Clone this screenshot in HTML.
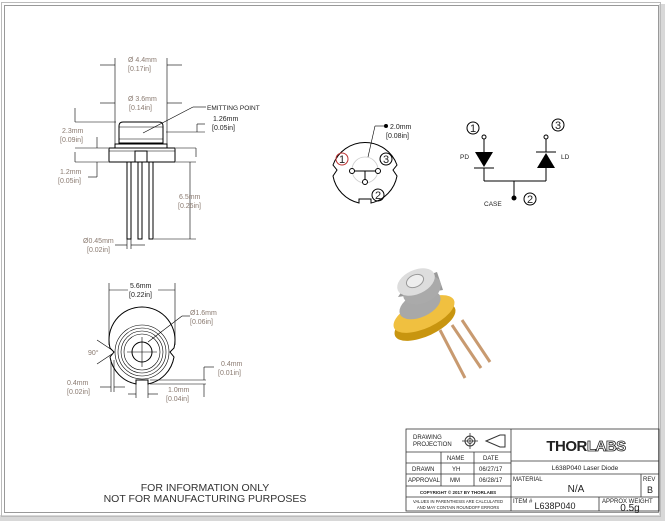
<!DOCTYPE html>
<html><head><meta charset="utf-8"><style>
html,body{margin:0;padding:0;background:#fff;}
svg{display:block;font-family:"Liberation Sans",sans-serif;}
.d{fill:#8a7a70;font-size:7px;}
.k{stroke:#000;fill:none;stroke-width:1;}
.t{stroke:#000;fill:none;stroke-width:0.6;}
.tb{font-size:6px;fill:#222;}
</style></head><body>
<svg width="665" height="521" viewBox="0 0 665 521">
<rect x="0" y="0" width="665" height="521" fill="#fff"/>
<rect x="659" y="4" width="6" height="517" fill="#d8d8d8"/>
<rect x="0" y="515" width="665" height="6" fill="#d8d8d8"/>
<rect x="1.5" y="2.5" width="659" height="514" fill="none" stroke="#bbb" stroke-width="1"/>
<rect x="4.5" y="5.5" width="654" height="507" fill="none" stroke="#999" stroke-width="1"/>

<!-- side view -->
<g>
<path class="k" d="M119,143 L119,126 Q119,122 123,122 L159,122 Q163,122 163,126 L163,143 Z"/>
<line class="t" x1="119" y1="127" x2="163" y2="127"/>
<line class="t" x1="119" y1="139" x2="163" y2="139"/>
<path class="k" d="M115,148 L115,144 L167,144 L167,148"/>
<rect class="k" x="109" y="148" width="66" height="14"/>
<line class="t" x1="109" y1="151" x2="175" y2="151"/>
<rect class="k" x="135" y="151" width="12" height="11"/>
<rect class="k" x="127" y="162" width="4" height="77"/>
<rect class="k" x="138" y="162" width="4" height="77"/>
<rect class="k" x="149" y="162" width="4" height="77"/>
<g class="t">
<line x1="115" y1="58" x2="115" y2="148"/><line x1="167" y1="58" x2="167" y2="148"/>
<line x1="100" y1="65" x2="115" y2="65"/><line x1="167" y1="65" x2="182" y2="65"/>
<line x1="100" y1="103" x2="115" y2="103"/><line x1="167" y1="103" x2="182" y2="103"/>
<line x1="143" y1="133" x2="193" y2="107"/><line x1="193" y1="107" x2="206" y2="107"/>
<line x1="166" y1="132" x2="205" y2="132"/><line x1="197" y1="124" x2="205" y2="124"/>
<line x1="197" y1="124" x2="197" y2="132"/>
<line x1="176" y1="148" x2="196" y2="148"/><line x1="196" y1="148" x2="196" y2="157"/>
<line x1="75" y1="108" x2="75" y2="122"/><line x1="75" y1="122" x2="116" y2="122"/>
<line x1="75" y1="148" x2="108" y2="148"/><line x1="97" y1="137" x2="97" y2="148"/>
<line x1="75" y1="152" x2="75" y2="162"/><line x1="75" y1="162" x2="108" y2="162"/>
<line x1="97" y1="162" x2="97" y2="177"/><line x1="88" y1="177" x2="97" y2="177"/>
<line x1="176" y1="162" x2="196" y2="162"/><line x1="154" y1="239" x2="196" y2="239"/>
<line x1="190" y1="162" x2="190" y2="239"/>
<line x1="115" y1="245" x2="127" y2="245"/><line x1="131" y1="245" x2="145" y2="245"/>
<line x1="127" y1="239" x2="127" y2="249"/><line x1="131" y1="239" x2="131" y2="249"/>
</g>
<text class="d" x="128" y="62">Ø 4.4mm</text><text class="d" x="128" y="71">[0.17in]</text>
<text class="d" x="128" y="101">Ø 3.6mm</text><text class="d" x="129" y="110">[0.14in]</text>
<text x="207" y="110" style="font-size:6.5px;fill:#222">EMITTING POINT</text>
<text x="213" y="121" style="font-size:7px;fill:#222">1.26mm</text><text x="212" y="130" style="font-size:7px;fill:#222">[0.05in]</text>
<text class="d" x="62" y="133">2.3mm</text><text class="d" x="60" y="142">[0.09in]</text>
<text class="d" x="60" y="174">1.2mm</text><text class="d" x="58" y="183">[0.05in]</text>
<text class="d" x="179" y="199">6.5mm</text><text class="d" x="178" y="208">[0.26in]</text>
<text class="d" x="83" y="243">Ø0.45mm</text><text class="d" x="87" y="252">[0.02in]</text>
</g>

<!-- bottom view -->
<g>
<path class="k" d="M110,348 A33,33 0 1 1 174,348 L170,352 L174,357 A33,33 0 0 1 148,384 L148,380 L136,380 L136,384 A33,33 0 0 1 110,357 L114,352 Z"/>
<circle class="t" cx="142" cy="352" r="27"/><circle class="t" cx="142" cy="352" r="24"/>
<circle class="t" cx="142" cy="352" r="21"/><circle class="t" cx="142" cy="352" r="18"/>
<circle class="k" cx="142" cy="352" r="10"/>
<g class="t">
<line x1="127" y1="352" x2="157" y2="352"/><line x1="142" y1="337" x2="142" y2="367"/>
<line x1="109" y1="283" x2="109" y2="345"/><line x1="175" y1="283" x2="175" y2="345"/>
<line x1="109" y1="290" x2="128" y2="290"/><line x1="158" y1="290" x2="175" y2="290"/>
<line x1="148" y1="342" x2="182" y2="316"/><line x1="182" y1="316" x2="190" y2="316"/>
<line x1="97" y1="340" x2="112" y2="350"/><line x1="97" y1="364" x2="112" y2="354"/>
<line x1="100" y1="387" x2="111" y2="387"/><line x1="114" y1="387" x2="125" y2="387"/>
<line x1="111" y1="360" x2="111" y2="392"/><line x1="114" y1="360" x2="114" y2="392"/>
<line x1="128" y1="394" x2="136" y2="394"/><line x1="148" y1="394" x2="158" y2="394"/>
<line x1="136" y1="382" x2="136" y2="398"/><line x1="148" y1="382" x2="148" y2="398"/>
<line x1="150" y1="384" x2="206" y2="384"/><line x1="150" y1="380" x2="206" y2="380"/>
<line x1="204" y1="367" x2="204" y2="380"/><line x1="204" y1="384" x2="204" y2="397"/>
<line x1="204" y1="367" x2="214" y2="367"/>
</g>
<text x="130" y="288" style="font-size:7px;fill:#222">5.6mm</text><text x="129" y="297" style="font-size:7px;fill:#222">[0.22in]</text>
<text class="d" x="190" y="315">Ø1.6mm</text><text class="d" x="190" y="324">[0.06in]</text>
<text class="d" x="88" y="355">90°</text>
<text class="d" x="67" y="385">0.4mm</text><text class="d" x="67" y="394">[0.02in]</text>
<text class="d" x="221" y="366">0.4mm</text><text class="d" x="218" y="375">[0.01in]</text>
<text class="d" x="168" y="392">1.0mm</text><text class="d" x="166" y="401">[0.04in]</text>
</g>

<!-- pin view -->
<g>
<path class="k" d="M333,165 A34,34 0 0 1 397,165 L393,170 L397,176 A34,34 0 0 1 371,203 L371,199 L359,199 L359,203 A34,34 0 0 1 333,176 L337,170 Z"/>
<circle cx="365" cy="170" r="13" fill="none" stroke="#ccc" stroke-width="0.8"/>
<line class="k" x1="352" y1="171" x2="378" y2="171"/><line class="k" x1="365" y1="171" x2="365" y2="181"/>
<circle cx="352" cy="171" r="2.5" fill="#fff" stroke="#000"/><circle cx="378" cy="171" r="2.5" fill="#fff" stroke="#000"/>
<circle cx="365" cy="182" r="2.5" fill="#fff" stroke="#000"/>
<line class="t" x1="386" y1="126" x2="375" y2="126"/><line class="t" x1="375" y1="126" x2="368" y2="157"/>
<circle cx="386" cy="126" r="2" fill="#000"/>
<text x="390" y="129" style="font-size:7px;fill:#222">2.0mm</text><text x="386" y="138" style="font-size:7px;fill:#222">[0.08in]</text>
<g font-size="11" fill="#222" text-anchor="middle">
<circle cx="342" cy="159" r="6" fill="none" stroke="#b33"/><text x="342" y="163">1</text>
<circle cx="386" cy="159" r="6" fill="none" stroke="#000"/><text x="386" y="163">3</text>
<circle cx="378" cy="195" r="6" fill="none" stroke="#000"/><text x="378" y="199">2</text>
</g>
</g>

<!-- circuit -->
<g>
<g font-size="11" fill="#222" text-anchor="middle">
<circle cx="473" cy="128" r="6" fill="none" stroke="#000"/><text x="473" y="132">1</text>
<circle cx="558" cy="125" r="6" fill="none" stroke="#000"/><text x="558" y="129">3</text>
<circle cx="530" cy="199" r="6" fill="none" stroke="#000"/><text x="530" y="203">2</text>
</g>
<circle cx="484" cy="137" r="2" fill="#fff" stroke="#000"/>
<circle cx="546" cy="137" r="2" fill="#fff" stroke="#000"/>
<line class="k" x1="484" y1="139" x2="484" y2="152"/>
<path d="M475,152 L493,152 L484,167 Z" fill="#000"/>
<line class="k" x1="474" y1="168" x2="494" y2="168"/>
<line class="k" x1="484" y1="168" x2="484" y2="181"/>
<line class="k" x1="546" y1="139" x2="546" y2="152"/>
<line class="k" x1="536" y1="152" x2="556" y2="152"/>
<path d="M546,153 L537,168 L555,168 Z" fill="#000"/>
<line class="k" x1="546" y1="168" x2="546" y2="181"/>
<line class="k" x1="484" y1="181" x2="546" y2="181"/>
<line class="k" x1="514" y1="181" x2="514" y2="197"/>
<circle cx="514" cy="198" r="2.5" fill="#000"/>
<text x="460" y="159" style="font-size:6.5px;fill:#222">PD</text>
<text x="561" y="159" style="font-size:6.5px;fill:#222">LD</text>
<text x="484" y="206" style="font-size:6.5px;fill:#222">CASE</text>
</g>

<!-- laser photo -->
<g>
<line x1="440" y1="330" x2="465" y2="378" stroke="#c89a70" stroke-width="3"/>
<line x1="452" y1="325" x2="481" y2="368" stroke="#c89a70" stroke-width="3"/>
<line x1="462" y1="320" x2="490" y2="362" stroke="#c89a70" stroke-width="3"/>
<ellipse cx="425" cy="322" rx="33" ry="14" transform="rotate(-25 425 322)" fill="#c8950f"/>
<ellipse cx="424" cy="314" rx="33" ry="14" transform="rotate(-25 424 314)" fill="#f0c040"/>
<ellipse cx="420" cy="305" rx="22" ry="12" transform="rotate(-25 420 305)" fill="#a8a8a8"/>
<path d="M398,297 L408,282 L437,272 L443,290 Z" fill="#999"/>
<ellipse cx="422" cy="290" rx="20" ry="13" transform="rotate(-25 422 290)" fill="#aaa"/>
<ellipse cx="416" cy="282" rx="20" ry="12" transform="rotate(-25 416 282)" fill="#ddd"/>
<ellipse cx="415" cy="281" rx="9" ry="6" transform="rotate(-25 415 281)" fill="#eee" stroke="#999"/>
</g>

<!-- notes -->
<text x="205" y="491" text-anchor="middle" style="font-size:10.5px;fill:#333">FOR INFORMATION ONLY</text>
<text x="205" y="502" text-anchor="middle" style="font-size:10.5px;fill:#333">NOT FOR MANUFACTURING PURPOSES</text>

<!-- title block -->
<g stroke="#333" stroke-width="0.8" fill="none">
<rect x="406" y="429" width="253" height="82"/>
<line x1="511" y1="429" x2="511" y2="511"/>
<line x1="406" y1="452" x2="511" y2="452"/>
<line x1="406" y1="463" x2="511" y2="463"/>
<line x1="406" y1="474" x2="659" y2="474"/>
<line x1="406" y1="486" x2="511" y2="486"/>
<line x1="406" y1="497" x2="659" y2="497"/>
<line x1="511" y1="461" x2="659" y2="461"/>
<line x1="441" y1="452" x2="441" y2="486"/>
<line x1="474" y1="452" x2="474" y2="486"/>
<line x1="641" y1="474" x2="641" y2="497"/>
<line x1="599" y1="497" x2="599" y2="511"/>
<circle cx="470" cy="441" r="5" stroke-width="1"/><circle cx="470" cy="441" r="2.5"/>
<line x1="462" y1="441" x2="478" y2="441"/><line x1="470" y1="433" x2="470" y2="449"/>
<path d="M486,441 L500,435 L505,435 L505,447 L500,447 Z" stroke-width="1"/>
</g>
<g class="tb">
<text x="413" y="439">DRAWING</text><text x="413" y="446">PROJECTION</text>
<text x="447" y="460">NAME</text><text x="483" y="460">DATE</text>
<text x="412" y="471">DRAWN</text><text x="452" y="471">YH</text><text x="479" y="471">06/27/17</text>
<text x="408" y="482">APPROVAL</text><text x="450" y="482">MM</text><text x="479" y="482">06/28/17</text>
<text x="458" y="494" text-anchor="middle" style="font-size:4.5px;font-weight:bold">COPYRIGHT © 2017 BY THORLABS</text>
<text x="458" y="503" text-anchor="middle" style="font-size:4.2px">VALUES IN PARENTHESIS ARE CALCULATED</text>
<text x="458" y="509" text-anchor="middle" style="font-size:4.2px">AND MAY CONTAIN ROUNDOFF ERRORS</text>
<text x="586" y="451" text-anchor="middle" style="font-size:15px;font-weight:bold;fill:#222;letter-spacing:-0.5px">THOR<tspan style="fill:#fff;stroke:#222;stroke-width:0.8">LABS</tspan></text>
<text x="585" y="470" text-anchor="middle" style="font-size:6.5px">L638P040 Laser Diode</text>
<text x="513" y="481">MATERIAL</text>
<text x="576" y="492" text-anchor="middle" style="font-size:10px">N/A</text>
<text x="643" y="481">REV</text><text x="647" y="493" style="font-size:9px">B</text>
<text x="513" y="503">ITEM #</text>
<text x="555" y="509" text-anchor="middle" style="font-size:9px">L638P040</text>
<text x="602" y="503">APPROX WEIGHT</text>
<text x="630" y="511" text-anchor="middle" style="font-size:10px">0.5g</text>
</g>
</svg>
</body></html>
